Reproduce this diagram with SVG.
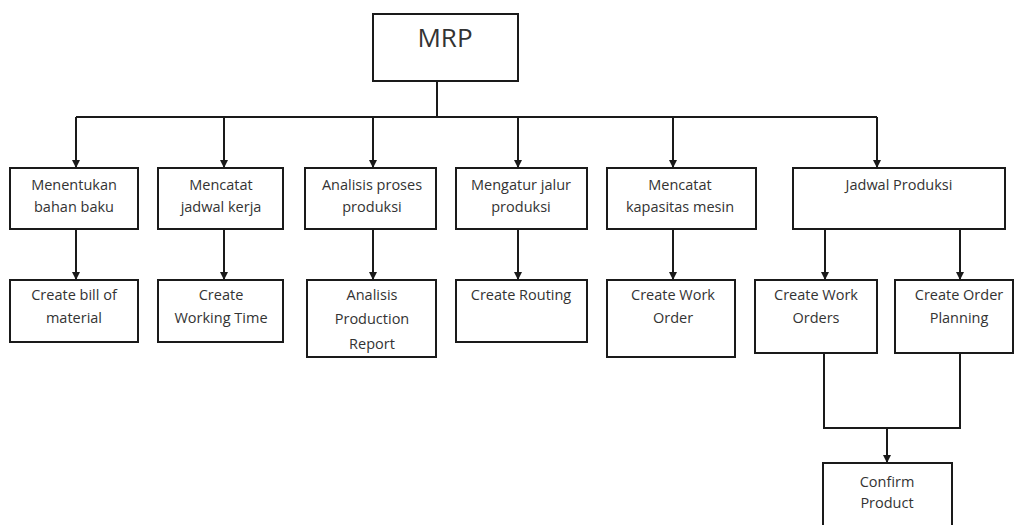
<svg xmlns="http://www.w3.org/2000/svg" width="1016" height="525" viewBox="0 0 1016 525">
<style>
.box{fill:#fff;stroke:#1a1a1a;stroke-width:2}
.t{font-family:"Open Sans","Liberation Sans",sans-serif;font-size:14.5px;fill:#333;text-anchor:middle}
.big{font-size:26px}
.c{fill:none;stroke:#1a1a1a;stroke-width:2}
</style>
<defs>
<marker id="ah" markerWidth="10" markerHeight="10" refX="8" refY="5" orient="auto" markerUnits="userSpaceOnUse" viewBox="0 0 10 10">
<path d="M0,1 L8,5 L0,9 Z" fill="#1a1a1a"/>
</marker>
</defs>
<rect width="1016" height="525" fill="#fff"/>
<g id="connectors">
<path class="c" d="M437,81 V117"/>
<path class="c" d="M76,117 H877"/>
<path class="c" d="M76,117 V168" marker-end="url(#ah)"/>
<path class="c" d="M224,117 V168" marker-end="url(#ah)"/>
<path class="c" d="M373,117 V168" marker-end="url(#ah)"/>
<path class="c" d="M518,117 V168" marker-end="url(#ah)"/>
<path class="c" d="M673,117 V168" marker-end="url(#ah)"/>
<path class="c" d="M877,117 V168" marker-end="url(#ah)"/>
<path class="c" d="M76,229 V280" marker-end="url(#ah)"/>
<path class="c" d="M224,229 V280" marker-end="url(#ah)"/>
<path class="c" d="M373,229 V280" marker-end="url(#ah)"/>
<path class="c" d="M518,229 V280" marker-end="url(#ah)"/>
<path class="c" d="M673,229 V280" marker-end="url(#ah)"/>
<path class="c" d="M825,229 V280" marker-end="url(#ah)"/>
<path class="c" d="M960,229 V280" marker-end="url(#ah)"/>
<path class="c" d="M824,353 V428 H960 V353"/>
<path class="c" d="M887,428 V463" marker-end="url(#ah)"/>
</g>
<g id="mrp"><rect class="box" x="373" y="14" width="145" height="67"/><text class="t big" x="445" y="47">MRP</text></g>
<g id="n1"><rect class="box" x="10" y="168" width="128" height="61"/><text class="t" x="74" y="190">Menentukan</text><text class="t" x="74" y="212">bahan baku</text></g>
<g id="n2"><rect class="box" x="158" y="168" width="125" height="61"/><text class="t" x="221" y="190">Mencatat</text><text class="t" x="221" y="212">jadwal kerja</text></g>
<g id="n3"><rect class="box" x="305" y="168" width="131" height="61"/><text class="t" x="372" y="190">Analisis proses</text><text class="t" x="372" y="212">produksi</text></g>
<g id="n4"><rect class="box" x="456" y="168" width="131" height="61"/><text class="t" x="521" y="190">Mengatur jalur</text><text class="t" x="521" y="212">produksi</text></g>
<g id="n5"><rect class="box" x="607" y="168" width="149" height="61"/><text class="t" x="680" y="190">Mencatat</text><text class="t" x="680" y="212">kapasitas mesin</text></g>
<g id="n6"><rect class="box" x="793" y="168" width="212" height="61"/><text class="t" x="899" y="190">Jadwal Produksi</text></g>
<g id="m1"><rect class="box" x="10" y="280" width="128" height="62"/><text class="t" x="74" y="300">Create bill  of</text><text class="t" x="74" y="323">material</text></g>
<g id="m2"><rect class="box" x="158" y="280" width="125" height="62"/><text class="t" x="221" y="300">Create</text><text class="t" x="221" y="323">Working Time</text></g>
<g id="m3"><rect class="box" x="307" y="280" width="129" height="77"/><text class="t" x="372" y="300">Analisis</text><text class="t" x="372" y="324">Production</text><text class="t" x="372" y="349">Report</text></g>
<g id="m4"><rect class="box" x="456" y="280" width="131" height="62"/><text class="t" x="521" y="300">Create Routing</text></g>
<g id="m5"><rect class="box" x="607" y="280" width="128" height="77"/><text class="t" x="673" y="300">Create Work</text><text class="t" x="673" y="323">Order</text></g>
<g id="m6"><rect class="box" x="755" y="280" width="122" height="73"/><text class="t" x="816" y="300">Create Work</text><text class="t" x="816" y="323">Orders</text></g>
<g id="m7"><rect class="box" x="895" y="280" width="118" height="73"/><text class="t" x="959" y="300">Create Order</text><text class="t" x="959" y="323">Planning</text></g>
<g id="cp"><rect class="box" x="823" y="463" width="129" height="70"/><text class="t" x="887" y="487">Confirm</text><text class="t" x="887" y="508">Product</text></g>
</svg>
